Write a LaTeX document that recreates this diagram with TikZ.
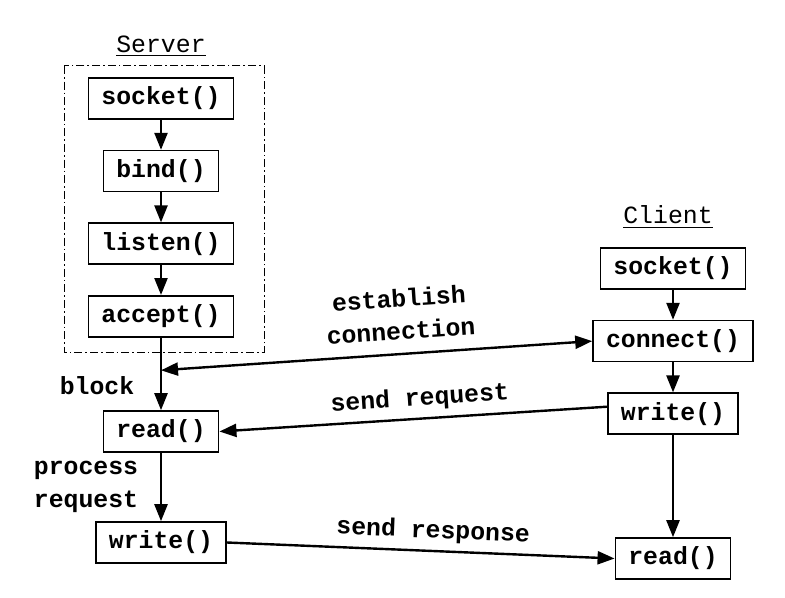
\documentclass[tikz,border=0pt]{standalone}
\usepackage{fontspec}
\setmonofont{Liberation Mono}
\usetikzlibrary{arrows.meta}

\begin{document}
\begin{tikzpicture}[x=0.5pt, y=-0.5pt, node distance={36.3pt}, >={Triangle[length=8.5pt, width=6.5pt]},
                              main/.style = {draw, thick, rectangle, minimum height=20.5pt, inner xsep=6.5pt, inner ysep=0pt,
                                             font=\ttfamily\bfseries\fontsize{12.4}{15.5}\selectfont},
                              txt/.style = {font=\ttfamily\bfseries\fontsize{12.4}{16.5}\selectfont, align=center},
                              head/.style = {font=\ttfamily\fontsize{12.4}{15.5}\selectfont}]
        \useasboundingbox (0,0) rectangle (785,598);
        % server side
        \node[head] (s) at (161,46) {\underline{Server}};
        \node[main] (0) at (161,98.5) {socket()};
        \node[main] (1) [below of=0] {bind()};
        \node[main] (2) [below of=1] {listen()};
        \node[main] (3) [below of=2] {accept()};
        \node[main] (4) [below of=3, yshift=-21.3pt] {read()};
        \node[main] (5) [below of=4, yshift=-19.2pt] {write()};
        \draw[line width=0.5pt, dash pattern=on 4pt off 1.5pt on 0.8pt off 1.5pt] (64,66) rectangle (264,352);
        % client side
        \node[head] (c) at (668,217) {\underline{Client}};
        \node[main] (6) at (673,268.5) {socket()};
        \node[main] (7) [below of=6] {connect()};
        \node[main] (8) [below of=7] {write()};
        \node[main] (9) [below of=8, yshift=-36.1pt] {read()};
        \node[txt] (10) at (97,386) {block};
        \node[txt] (11) at (86,487) {process\\request};
        \draw[->, very thick] (0) -- (1);
        \draw[->, very thick] (1) -- (2);
        \draw[->, very thick] (2) -- (3);
        \draw[->, very thick] (3) -- coordinate[pos=0.45] (b) (4);
        \draw[->, very thick] (4) -- (5);
        \draw[->, very thick] (6) -- (7);
        \draw[->, very thick] (7) -- (8);
        \draw[->, very thick] (8) -- (9);
        \draw[<->, very thick] (b) -- node[txt, sloped, above=3pt, pos=0.56] (12) {establish\\connection} (7.west);
        \draw[<-, very thick] (4.east) -- node[txt, sloped, above, pos=0.52] (13) {send request} ([yshift=3.5pt]8.west);
        \draw[->, very thick] (5.east) -- node[txt, sloped, above, pos=0.53] (14) {send response} (9.west);
    \end{tikzpicture}
\end{document}
